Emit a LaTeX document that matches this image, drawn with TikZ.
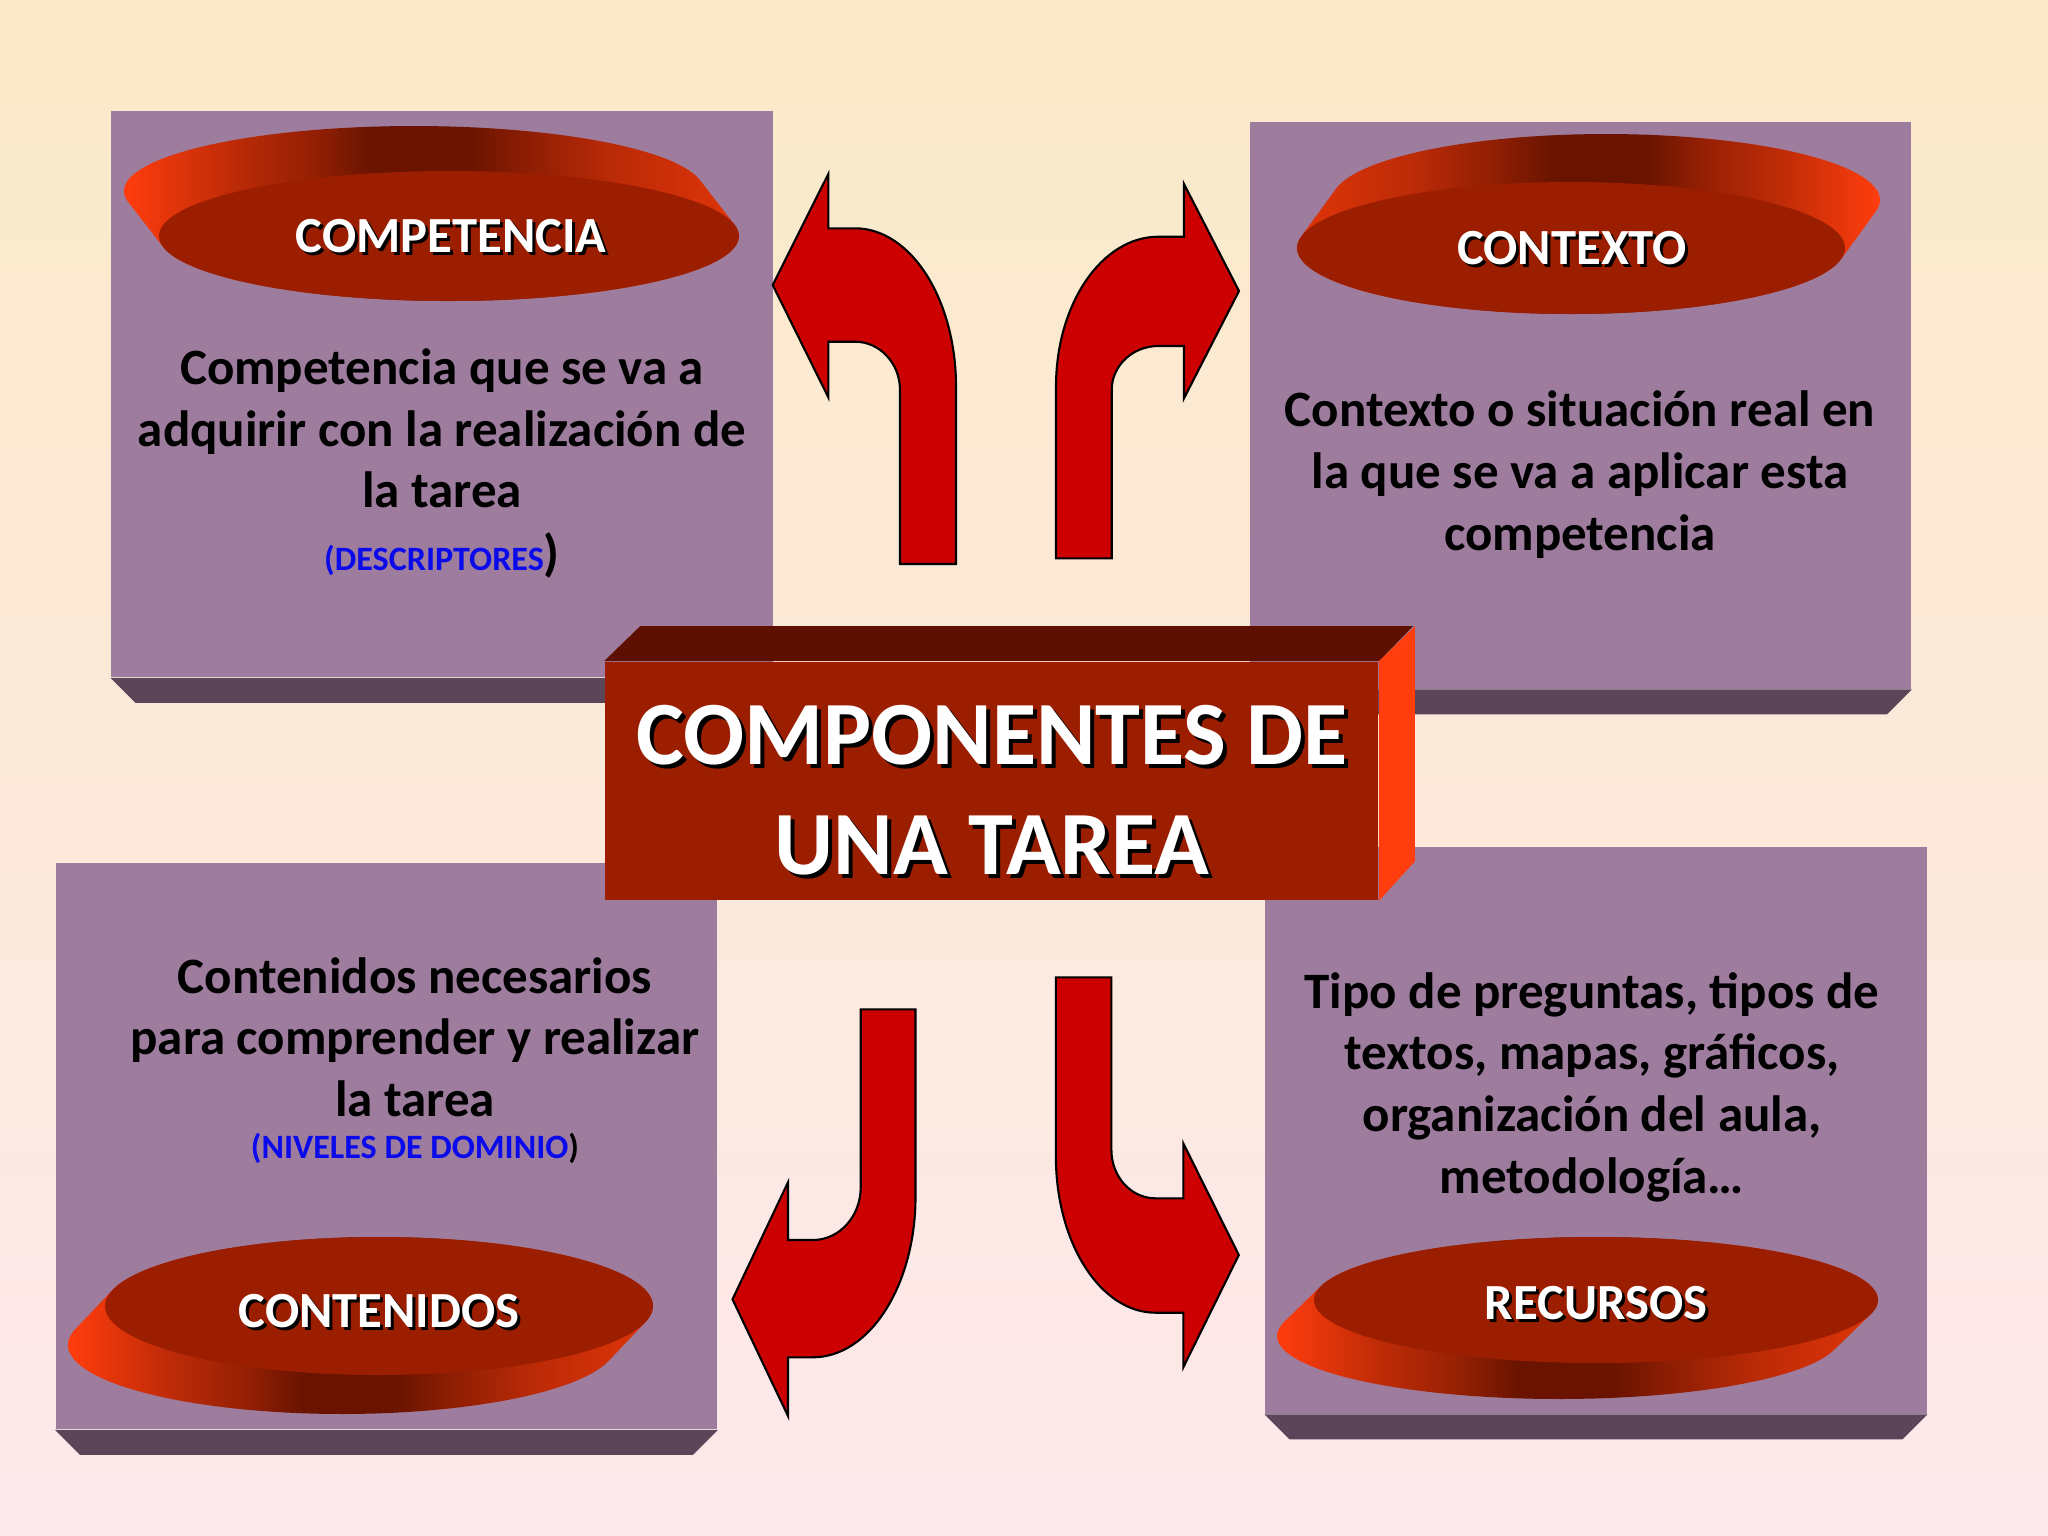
\documentclass[tikz,border=0pt]{standalone}
\usepackage{fontspec}
\setmainfont{Carlito}
\usetikzlibrary{calc}
\definecolor{bgtop}{RGB}{250,234,200}
\definecolor{bgbot}{RGB}{253,232,236}
\definecolor{boxpurple}{HTML}{9D7C9E}
\definecolor{boxdark}{HTML}{5B4659}
\definecolor{redface}{HTML}{9B1E00}
\definecolor{redtop}{HTML}{5E1000}
\definecolor{redside}{HTML}{FF3D0D}
\definecolor{discdark}{HTML}{6A1400}
\definecolor{discmid}{HTML}{E03508}
\definecolor{arrowred}{HTML}{CC0000}
\definecolor{bluetxt}{RGB}{10,10,235}
% TikZ maps the central 25bp..75bp of a shading onto the path
\pgfdeclarehorizontalshading{sideleftlit}{100bp}{%
  color(0bp)=(redside); color(25bp)=(redside); color(34bp)=(redside!55!discdark); color(40bp)=(redside!30!discdark);
  color(45bp)=(discdark); color(53bp)=(discdark); color(58bp)=(redside!25!discdark);
  color(65bp)=(redside!55!discdark); color(75bp)=(discmid); color(100bp)=(discmid)}
\pgfdeclarehorizontalshading{siderightlit}{100bp}{%
  color(0bp)=(discmid); color(25bp)=(discmid); color(35bp)=(redside!55!discdark); color(42bp)=(redside!25!discdark);
  color(47bp)=(discdark); color(55bp)=(discdark); color(60bp)=(redside!30!discdark);
  color(66bp)=(redside!55!discdark); color(75bp)=(redside); color(100bp)=(redside)}
\begin{document}
\begin{tikzpicture}[x=0.01cm, y=-0.01cm,
  boxface/.style={fill=boxpurple, inner sep=0, minimum width=6.61cm, minimum height=5.66cm},
  boxbevel/.style={fill=boxdark},
  disctop/.style={fill=redface},
  blockarrow/.style={fill=arrowred, draw=black, line width=0.6pt, line join=miter},
  bodytext/.style={font=\bfseries\fontsize{14.5}{17.5}\selectfont, align=center, inner sep=0, anchor=base},
  labeltext/.style={font=\bfseries\fontsize{14.4}{17}\selectfont, text=white, inner sep=0},
  labelshadow/.style={font=\bfseries\fontsize{14.4}{17}\selectfont, text=black, inner sep=0},
  titletext/.style={font=\bfseries\fontsize{25.7}{31.3}\selectfont, text=white, align=center, inner sep=0},
  titleshadow/.style={font=\bfseries\fontsize{25.7}{31.3}\selectfont, text=black, align=center, inner sep=0}
]
\useasboundingbox (0,0) rectangle (2048,1536);
\shade[top color=bgtop, bottom color=bgbot] (0,0) rectangle (2048,1536);

% ---- four boxes
\node[boxface] (tl) at (442,394) {};
\node[boxface] (tr) at (1580.5,405.5) {};
\node[boxface] (bl) at (386.5,1146) {};
\node[boxface] (br) at (1596,1130.5) {};
\foreach \b in {tl,tr,bl,br}{
  \fill[boxbevel] (\b.south west) -- (\b.south east) -- ([shift={(-25,25)}]\b.south east) -- ([shift={(25,25)}]\b.south west) -- cycle;
}

% ---- discs
\shade[shading=sideleftlit]
  plot[domain=170.1:350.1, samples=60, variable=\t] ({414+290*cos(\t)},{191+65*sin(\t)})
  -- plot[domain=350.1:530.1, samples=60, variable=\t] ({449+290*cos(\t)},{236+65*sin(\t)}) -- cycle;
\fill[disctop] (449,236) ellipse [x radius=290, y radius=65];

\shade[shading=siderightlit]
  plot[domain=190:370, samples=60, variable=\t] ({1606+274*cos(\t)},{200+66*sin(\t)})
  -- plot[domain=370:550, samples=60, variable=\t] ({1571+274*cos(\t)},{248+66*sin(\t)}) -- cycle;
\fill[disctop] (1571,248) ellipse [x radius=274, y radius=66];

\shade[shading=sideleftlit]
  plot[domain=13.4:193.4, samples=60, variable=\t] ({342+274*cos(\t)},{1345+69*sin(\t)})
  -- plot[domain=193.4:373.4, samples=60, variable=\t] ({379+274*cos(\t)},{1306+69*sin(\t)}) -- cycle;
\fill[disctop] (379,1306) ellipse [x radius=274, y radius=69];

\shade[shading=sideleftlit]
  plot[domain=12.9:192.9, samples=60, variable=\t] ({1559+282*cos(\t)},{1336+63*sin(\t)})
  -- plot[domain=192.9:372.9, samples=60, variable=\t] ({1596+282*cos(\t)},{1300+63*sin(\t)}) -- cycle;
\fill[disctop] (1596,1300) ellipse [x radius=282, y radius=63];

% ---- disc labels
\node[labelshadow] (lcomps) at (454,239) {COMPETENCIA};
\node[labeltext] (lcomp) at (451,236) {COMPETENCIA};
\node[labelshadow] (lconts) at (1575,251) {CONTEXTO};
\node[labeltext] (lcont) at (1572,248) {CONTEXTO};
\node[labelshadow] (lconis) at (382,1314) {CONTENIDOS};
\node[labeltext] (lconi) at (379,1311) {CONTENIDOS};
\node[labelshadow] (lrecs) at (1599,1306) {RECURSOS};
\node[labeltext] (lrec) at (1596,1303) {RECURSOS};

% ---- body texts (base anchor = baseline of last line)
\node[bodytext] (tltext) at (442,570) {Competencia que se va a\\adquirir con la realización de\\la tarea\\[0.2pt]{\fontsize{9.7}{11}\selectfont\color{bluetxt}(DESCRIPTORES}{\color{black})}};
\node[bodytext] (trtext) at (1580,550) {Contexto o situación real en\\la que se va a aplicar esta\\competencia};
\node[bodytext] (bltext) at (415,1158) {Contenidos necesarios\\para comprender y realizar\\la tarea\\[-5.7pt]{\fontsize{9.7}{11}\selectfont\color{bluetxt}(NIVELES DE DOMINIO\color{black})}};
\node[bodytext] (brtext) at (1592,1193) {Tipo de preguntas, tipos de\\textos, mapas, gráficos,\\organización del aula,\\metodología…};

% ---- block arrows
\draw[blockarrow] (956,564) -- (956,386.7) .. controls (956,299.3) and (910.8,228.3) .. (855,228.3)
  -- (828.3,228.3) -- (828.3,174) -- (772.7,285) -- (828.3,397.3) -- (828.3,341.7) -- (855,341.7)
  .. controls (879.8,341.7) and (900,363.3) .. (900,390) -- (900,564) -- cycle;
\draw[blockarrow] (1056,558.3) -- (1056,386.7) .. controls (1056,303.9) and (1101.8,236.7) .. (1158.3,236.7)
  -- (1184,236.7) -- (1184,184) -- (1239,291) -- (1184,398.3) -- (1184,346) -- (1158.3,346)
  .. controls (1132.6,346) and (1111.7,365.7) .. (1111.7,390) -- (1111.7,558.3) -- cycle;
\draw[blockarrow] (860.7,1009.3) -- (915.5,1009.3) -- (915.5,1196.7) .. controls (915.5,1285.4) and (869.5,1357.3) .. (812.9,1357.3)
  -- (788,1357.3) -- (788,1416) -- (732.5,1299.3) -- (788,1182.3) -- (788,1240) -- (812.9,1240)
  .. controls (839.3,1240) and (860.7,1216.4) .. (860.7,1187.3) -- cycle;
\draw[blockarrow] (1055.9,977.3) -- (1111.4,977.3) -- (1111.4,1150) .. controls (1111.4,1176.7) and (1131.1,1198.3) .. (1155.4,1198.3)
  -- (1183.3,1198.3) -- (1183.3,1143.3) -- (1238.8,1255) -- (1183.3,1367.3) -- (1183.3,1312.7) -- (1155.4,1312.7)
  .. controls (1100.5,1312.7) and (1055.9,1242.8) .. (1055.9,1156.7) -- cycle;

% ---- central box
\node[fill=redface, inner sep=0, minimum width=7.73cm, minimum height=2.38cm] (cbox) at (991.5,781) {};
\fill[redtop] (cbox.north west) -- ++(36,-35) -- ++(773,0) -- (cbox.north east) -- cycle;
\fill[redside] (cbox.north east) -- ++(36,-35) -- ++(0,235) -- (cbox.south east) -- cycle;
\node[titleshadow] (titles) at (996,794) {COMPONENTES DE\\UNA TAREA};
\node[titletext] (title) at (992,790) {COMPONENTES DE\\UNA TAREA};
\end{tikzpicture}
\end{document}
